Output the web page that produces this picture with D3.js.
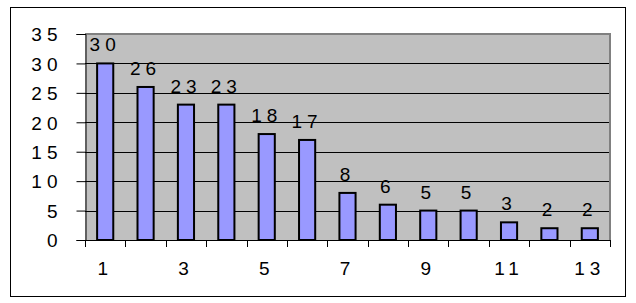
<!DOCTYPE html>
<html>
<head>
<meta charset="utf-8">
<script src="https://cdn.jsdelivr.net/npm/d3@7"></script>
<style>
  body { margin: 0; background: #fff; }
  text { font-family: "Liberation Sans", Arial, sans-serif; font-size: 19px; letter-spacing: 5px; fill: #000; }
</style>
</head>
<body>
<div id="chart"></div>
<script>
const categories = [1, 2, 3, 4, 5, 6, 7, 8, 9, 10, 11, 12, 13]
const values = [30, 26, 23, 23, 18, 17, 8, 6, 5, 5, 3, 2, 2]
const yTicks = [0, 5, 10, 15, 20, 25, 30, 35]
const xLabels = [1, 3, 5, 7, 9, 11, 13]

const W = 636, H = 303
const plot = { left: 85, top: 34, right: 610, bottom: 240 }

const svg = d3.select('#chart')
    .append('svg')
    .attr('width', W)
    .attr('height', H)

// outer frame
svg.append('rect')
    .attr('x', 10.5)
    .attr('y', 7.5)
    .attr('width', 615)
    .attr('height', 289)
    .attr('fill', '#fff')
    .attr('stroke', '#000')
    .attr('stroke-width', 1)

const x = d3.scaleBand()
    .domain(categories)
    .range([plot.left, plot.right])
    .paddingInner(0.6)
    .paddingOuter(0.3)

const y = d3.scaleLinear()
    .domain([0, 35])
    .range([plot.bottom, plot.top])

// plot background
svg.append('rect')
    .attr('x', plot.left)
    .attr('y', plot.top)
    .attr('width', plot.right - plot.left)
    .attr('height', plot.bottom - plot.top)
    .attr('fill', '#c0c0c0')

// gridlines
svg.append('g')
    .selectAll('line')
    .data(yTicks.filter(d => d > 0 && d < 35))
    .join('line')
    .attr('x1', plot.left)
    .attr('x2', plot.right)
    .attr('y1', d => Math.round(y(d)) + 0.5)
    .attr('y2', d => Math.round(y(d)) + 0.5)
    .attr('stroke', '#000')
    .attr('stroke-width', 1)

// gray top/right border of plot area
svg.append('path')
    .attr('d', `M${plot.left},${plot.top} H${plot.right} V${plot.bottom}`)
    .attr('fill', 'none')
    .attr('stroke', '#808080')
    .attr('stroke-width', 2)

// bars
svg.append('g')
    .selectAll('rect')
    .data(values)
    .join('rect')
    .attr('x', (d, i) => x(categories[i]))
    .attr('y', d => y(d))
    .attr('width', x.bandwidth())
    .attr('height', d => y(0) - y(d))
    .attr('fill', '#9999ff')
    .attr('stroke', '#000')
    .attr('stroke-width', 2)

// data labels (trailing letter-spacing shifts them a bit left, like the original)
svg.append('g')
    .selectAll('text')
    .data(values)
    .join('text')
    .attr('x', (d, i) => x(categories[i]) + x.bandwidth() / 2)
    .attr('y', d => y(d) - 12)
    .attr('text-anchor', 'middle')
    .text(d => d)

// y axis
const step = x.step()
const yAxis = svg.append('g')
    .attr('transform', `translate(${plot.left + 0.5},0)`)
    .call(d3.axisLeft(y).tickValues(yTicks).tickSize(9).tickPadding(14))
yAxis.select('.domain').attr('stroke', '#000').attr('stroke-width', 1)
yAxis.selectAll('.tick line').attr('stroke', '#000')
yAxis.selectAll('.tick text')
    .attr('font-size', null)
    .attr('font-family', null)
    .attr('dy', '0.36em')

// x axis: ticks at category boundaries
const bounds = categories.map(c => x(c) - x.paddingInner() * step / 2)
bounds.push(plot.right)
svg.append('line')
    .attr('x1', plot.left)
    .attr('x2', plot.right + 1)
    .attr('y1', plot.bottom + 0.5)
    .attr('y2', plot.bottom + 0.5)
    .attr('stroke', '#000')
svg.append('g')
    .selectAll('line')
    .data(bounds)
    .join('line')
    .attr('x1', d => Math.round(d) + 0.5)
    .attr('x2', d => Math.round(d) + 0.5)
    .attr('y1', plot.bottom)
    .attr('y2', plot.bottom + 7)
    .attr('stroke', '#000')

svg.append('g')
    .selectAll('text')
    .data(xLabels)
    .join('text')
    .attr('x', d => x(d) + x.bandwidth() / 2)
    .attr('y', 275)
    .attr('text-anchor', 'middle')
    .text(d => d)
</script>
</body>
</html>
